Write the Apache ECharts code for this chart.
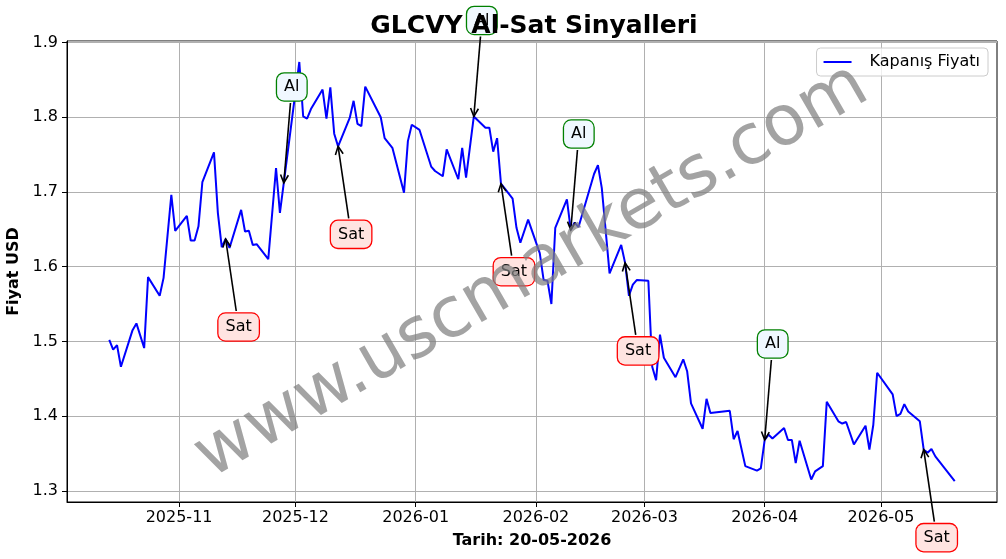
<!DOCTYPE html>
<html>
<head>
<meta charset="utf-8">
<script src="https://cdn.jsdelivr.net/npm/echarts@6/dist/echarts.min.js"></script>
<style>
  html, body { margin: 0; padding: 0; background: #fff; }
  #chart { width: 1006px; height: 559px; }
</style>
</head>
<body>
<div id="chart"></div>
<script>
const dates = ['2025-10-14','2025-10-15','2025-10-16','2025-10-17','2025-10-20','2025-10-21','2025-10-23','2025-10-24','2025-10-27','2025-10-28','2025-10-30','2025-10-31','2025-11-03','2025-11-04','2025-11-05','2025-11-06','2025-11-07','2025-11-10','2025-11-11','2025-11-12','2025-11-13','2025-11-14','2025-11-17','2025-11-18','2025-11-19','2025-11-20','2025-11-21','2025-11-24','2025-11-26','2025-11-27','2025-11-28','2025-12-02','2025-12-03','2025-12-04','2025-12-05','2025-12-08','2025-12-09','2025-12-10','2025-12-11','2025-12-12','2025-12-15','2025-12-16','2025-12-17','2025-12-18','2025-12-19','2025-12-23','2025-12-24','2025-12-26','2025-12-29','2025-12-30','2025-12-31','2026-01-02','2026-01-05','2026-01-06','2026-01-08','2026-01-09','2026-01-12','2026-01-13','2026-01-14','2026-01-16','2026-01-19','2026-01-20','2026-01-21','2026-01-22','2026-01-23','2026-01-26','2026-01-27','2026-01-28','2026-01-30','2026-02-02','2026-02-03','2026-02-04','2026-02-05','2026-02-06','2026-02-09','2026-02-10','2026-02-11','2026-02-12','2026-02-16','2026-02-17','2026-02-18','2026-02-20','2026-02-23','2026-02-24','2026-02-25','2026-02-26','2026-02-27','2026-03-02','2026-03-03','2026-03-04','2026-03-05','2026-03-06','2026-03-09','2026-03-11','2026-03-12','2026-03-13','2026-03-16','2026-03-17','2026-03-18','2026-03-23','2026-03-24','2026-03-25','2026-03-27','2026-03-30','2026-03-31','2026-04-01','2026-04-02','2026-04-03','2026-04-06','2026-04-07','2026-04-08','2026-04-09','2026-04-10','2026-04-13','2026-04-14','2026-04-16','2026-04-17','2026-04-20','2026-04-21','2026-04-22','2026-04-24','2026-04-27','2026-04-28','2026-04-29','2026-04-30','2026-05-04','2026-05-05','2026-05-06','2026-05-07','2026-05-08','2026-05-11','2026-05-12','2026-05-13','2026-05-14','2026-05-15','2026-05-20'];

const closes = [1.502,1.489,1.495,1.466,1.515,1.524,1.491,1.586,1.561,1.585,1.696,1.648,1.668,1.635,1.635,1.654,1.713,1.753,1.672,1.626,1.637,1.625,1.676,1.647,1.648,1.629,1.630,1.610,1.732,1.672,1.712,1.874,1.801,1.798,1.811,1.837,1.798,1.840,1.778,1.761,1.799,1.822,1.791,1.788,1.841,1.800,1.772,1.759,1.699,1.768,1.790,1.783,1.734,1.728,1.721,1.757,1.717,1.759,1.719,1.801,1.786,1.786,1.754,1.772,1.711,1.691,1.652,1.632,1.663,1.618,1.582,1.581,1.550,1.652,1.690,1.649,1.659,1.653,1.724,1.736,1.705,1.591,1.629,1.605,1.561,1.576,1.582,1.581,1.466,1.448,1.509,1.478,1.452,1.476,1.460,1.417,1.383,1.423,1.404,1.407,1.369,1.380,1.333,1.327,1.330,1.368,1.375,1.370,1.384,1.368,1.368,1.337,1.367,1.315,1.326,1.333,1.419,1.393,1.390,1.392,1.362,1.387,1.355,1.388,1.458,1.429,1.400,1.403,1.416,1.406,1.393,1.355,1.351,1.356,1.346,1.313];

const signalDates  = ['2025-11-13','2025-11-28','2025-12-12','2026-01-16','2026-01-23','2026-02-10','2026-02-24','2026-04-01','2026-05-12'];
const signalPrices = [1.637,1.712,1.761,1.801,1.711,1.649,1.605,1.368,1.355];
const signalTypes  = ['Sat','Al','Sat','Al','Sat','Al','Sat','Al','Sat'];

const monthTicks = ['2025-11-01','2025-12-01','2026-01-01','2026-02-01','2026-03-01','2026-04-01','2026-05-01'];

const titleText = 'GLCVY Al-Sat Sinyalleri';
const legendText = 'Kapanış Fiyatı';
const xName = 'Tarih: 20-05-2026';
const yName = 'Fiyat USD';
const watermark = 'www.uscmarkets.com';

function ts(s) { return new Date(s + 'T00:00:00').getTime(); }

const FONT = '"DejaVu Sans", sans-serif';
const xs = dates.map(ts);
const xSpan = xs[xs.length - 1] - xs[0];
const xMin = xs[0] - 0.05 * xSpan;
const xMax = xs[xs.length - 1] + 0.05 * xSpan;
const yLo = Math.min.apply(null, closes), yHi = Math.max.apply(null, closes);
const ySpan = yHi - yLo;
const yMin = yLo - 0.05 * ySpan;
const yMax = yHi + 0.05 * ySpan;
const tickTs = monthTicks.map(ts);

const chart = echarts.init(document.getElementById('chart'), null, { renderer: 'canvas' });

const option = {
  animation: false,
  backgroundColor: '#ffffff',
  title: {
    text: titleText,
    left: 529,
    textAlign: 'center',
    top: 9,
    textStyle: { fontFamily: FONT, fontSize: 25, fontWeight: 'bold', color: '#000' }
  },
  legend: {
    data: [{ name: legendText, icon: 'rect' }],
    right: 18,
    top: 48,
    padding: [6, 8, 6, 7],
    itemWidth: 28,
    itemHeight: 2,
    backgroundColor: 'rgba(255,255,255,0.8)',
    borderColor: '#cccccc',
    borderWidth: 1,
    borderRadius: 4,
    textStyle: { fontFamily: FONT, fontSize: 16, color: '#000', padding: [0, 0, 0, 13] }
  },
  grid: {
    left: 67, right: 9, top: 41, bottom: 57,
    outerBoundsMode: 'none',
    containLabel: false,
    show: true, borderColor: '#000', borderWidth: 1, backgroundColor: 'transparent'
  },
  xAxis: {
    type: 'value',
    min: xMin,
    max: xMax,
    name: xName,
    nameLocation: 'middle',
    nameGap: 31,
    nameTextStyle: { fontFamily: FONT, fontSize: 16, fontWeight: 'bold', color: '#000' },
    axisLine: { show: true, lineStyle: { color: '#000', width: 1 } },
    axisTick: { show: true, length: 5, lineStyle: { color: '#000', width: 1 }, customValues: tickTs },
    axisLabel: {
      fontFamily: FONT, fontSize: 16, color: '#000', margin: 8,
      customValues: tickTs,
      formatter: function (v) {
        const d = new Date(v);
        return d.getFullYear() + '-' + String(d.getMonth() + 1).padStart(2, '0');
      }
    },
    splitLine: { show: true, lineStyle: { color: '#b0b0b0', width: 1 } }
  },
  yAxis: {
    type: 'value',
    min: yMin,
    max: yMax,
    splitNumber: 6,
    name: yName,
    nameLocation: 'middle',
    nameGap: 44,
    nameTextStyle: { fontFamily: FONT, fontSize: 16, fontWeight: 'bold', color: '#000' },
    axisLine: { show: true, lineStyle: { color: '#000', width: 1 } },
    axisTick: { show: true, length: 5, lineStyle: { color: '#000', width: 1 } },
    axisLabel: {
      fontFamily: FONT, fontSize: 16, color: '#000', margin: 9,
      showMinLabel: false, showMaxLabel: false,
      formatter: function (v) { return v.toFixed(1); }
    },
    splitLine: { show: true, lineStyle: { color: '#b0b0b0', width: 1 } }
  },
  series: [
    {
      name: legendText,
      type: 'line',
      data: dates.map(function (d, i) { return [ts(d), closes[i]]; }),
      symbol: 'none',
      lineStyle: { color: '#0000ff', width: 2 },
      itemStyle: { color: '#0000ff' },
      z: 3
    },
    {
      name: 'signals',
      type: 'custom',
      clip: false,
      z: 4,
      data: signalDates.map(function (d, i) { return [ts(d), signalPrices[i]]; }),
      encode: { x: 0, y: 1 },
      renderItem: function (params, api) {
        const i = params.dataIndex;
        const p = api.coord([api.value(0), api.value(1)]);
        const isBuy = signalTypes[i] === 'Al';
        const cx = p[0] + (isBuy ? 8 : 13);
        const cy = p[1] + (isBuy ? -96 : 88);
        const halfH = 14;
        const sy = cy + (isBuy ? halfH + 2 : -(halfH + 2));
        const t = (sy - cy) / (p[1] - cy);
        const sx = cx + t * (p[0] - cx);
        const ang = Math.atan2(p[1] - sy, p[0] - sx);
        const L = 9, a = 0.45;
        const h1 = [p[0] - L * Math.cos(ang - a), p[1] - L * Math.sin(ang - a)];
        const h2 = [p[0] - L * Math.cos(ang + a), p[1] - L * Math.sin(ang + a)];
        return {
          type: 'group',
          children: [
            { type: 'line', shape: { x1: sx, y1: sy, x2: p[0], y2: p[1] }, style: { stroke: '#000', lineWidth: 1.6 } },
            { type: 'polyline', shape: { points: [h1, p, h2] }, style: { stroke: '#000', fill: null, lineWidth: 1.6 } },
            {
              type: 'text', x: cx, y: cy,
              style: {
                text: signalTypes[i],
                font: '16px ' + FONT,
                fill: '#000',
                align: 'center',
                verticalAlign: 'middle',
                backgroundColor: isBuy ? '#f0f8ff' : '#ffe4e1',
                borderColor: isBuy ? '#008000' : '#ff0000',
                borderWidth: 1.3,
                borderRadius: 7,
                padding: [6, 7, 5, 7]
              }
            }
          ]
        };
      }
    }
  ],
  graphic: [
    {
      type: 'text',
      x: 532, y: 272,
      rotation: Math.PI / 6,
      z: 100,
      silent: true,
      style: {
        text: watermark,
        font: '70px ' + FONT,
        fill: 'rgba(128,128,128,0.72)',
        align: 'center',
        verticalAlign: 'middle'
      }
    }
  ]
};

chart.setOption(option);
</script>
</body>
</html>
